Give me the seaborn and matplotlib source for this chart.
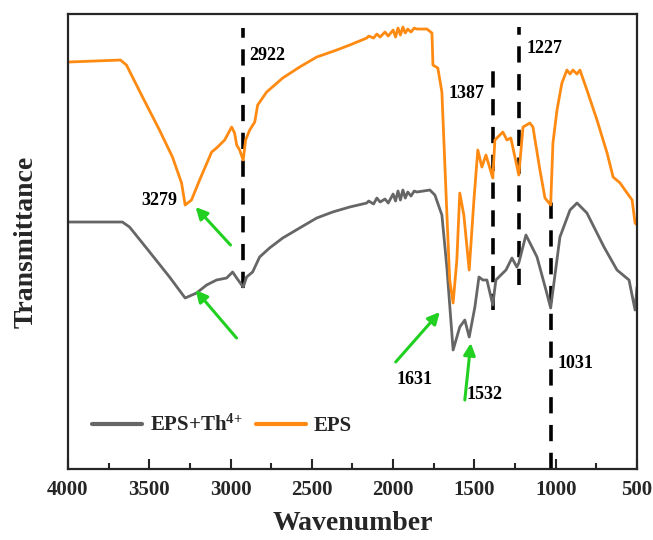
import matplotlib
matplotlib.use("Agg")
import matplotlib.pyplot as plt
import seaborn as sns
import pandas as pd
from matplotlib.ticker import MultipleLocator

# ---- data (wavenumber cm-1, transmittance a.u.) ----
eps_wn = [4000, 3837, 3677, 3640, 3541, 3437, 3357, 3301, 3279, 3240, 3190, 3116, 3086, 3036,
          2993, 2975, 2962, 2944, 2922, 2907, 2882, 2851, 2833, 2778, 2679, 2575, 2470, 2347,
          2267, 2162, 2150, 2120, 2100, 2080, 2050, 2030, 2000, 1985, 1970, 1955, 1940, 1925,
          1910, 1890, 1870, 1854, 1792, 1761, 1755, 1725, 1700, 1669, 1652, 1631, 1608, 1590,
          1565, 1532, 1503, 1479, 1454, 1429, 1387, 1374, 1325, 1300, 1276, 1227, 1201, 1159,
          1140, 1097, 1066, 1031, 1017, 992, 962, 931, 912, 894, 869, 851, 808, 746, 684, 647,
          604, 561, 530, 512, 500]
eps_t = [407, 408, 409, 404, 372, 339, 312, 286, 264, 269, 289, 317, 321, 329,
         342, 336, 324, 319, 309, 329, 339, 347, 364, 377, 391, 402, 412, 419,
         424, 431, 433, 431, 435, 432, 437, 433, 439, 432, 441, 434, 442, 436,
         440, 437, 441, 440, 440, 436, 404, 401, 377, 254, 189, 166, 209, 276,
         254, 199, 269, 319, 302, 314, 291, 329, 337, 329, 331, 294, 342, 346,
         342, 299, 271, 264, 326, 359, 386, 399, 395, 399, 395, 399, 379, 349, 316, 292,
         286, 276, 269, 246, 244]

th_wn = [4000, 3837, 3665, 3621, 3517, 3375, 3279, 3209, 3147, 3086, 3024, 2987, 2962, 2922,
         2901, 2864, 2821, 2760, 2679, 2575, 2470, 2372, 2267, 2162, 2150, 2120, 2100, 2080,
         2050, 2030, 2000, 1985, 1970, 1955, 1940, 1925, 1910, 1890, 1870, 1854, 1774, 1743,
         1700, 1669, 1631, 1590, 1559, 1532, 1497, 1472, 1448, 1423, 1387, 1368, 1306, 1269,
         1239, 1227, 1183, 1115, 1060, 1031, 974, 912, 869, 808, 703, 623, 549, 512, 500]
th_t = [247, 247, 247, 242, 221, 192, 171, 176, 184, 189, 191, 197, 191, 182,
        192, 197, 212, 221, 231, 241, 251, 257, 262, 266, 268, 265, 271, 267,
        270, 266, 275, 268, 278, 269, 279, 271, 277, 273, 278, 277, 279, 274,
        254, 201, 119, 142, 149, 132, 162, 192, 189, 189, 164, 189, 199, 211,
        202, 206, 234, 212, 179, 161, 232, 259, 266, 256, 222, 199, 189, 159, 182]

series_names = ["EPS+Th$^{4{+}}$", "EPS"]
peak_lines = [2922, 1387, 1227, 1031]
peak_spans = [(181, 441), (159, 399), (184, 442), (0, 274)]

# ---- build frame ----
df = pd.concat([
    pd.DataFrame({"wn": th_wn, "t": th_t, "sample": series_names[0]}),
    pd.DataFrame({"wn": eps_wn, "t": eps_t, "sample": series_names[1]}),
])

sns.set_style("ticks")
plt.rcParams["font.family"] = ["Liberation Serif", "DejaVu Serif"]
plt.rcParams["mathtext.fontset"] = "custom"
plt.rcParams["mathtext.rm"] = "Liberation Serif:bold"
plt.rcParams["mathtext.it"] = "Liberation Serif:bold"
plt.rcParams["mathtext.bf"] = "Liberation Serif:bold"

fig = plt.figure(figsize=(6.53, 5.40), dpi=100)
ax = fig.add_axes([0.104, 0.1315, 0.8715, 0.8425])

palette = {series_names[0]: "#666666", series_names[1]: "#FF8A12"}
sns.lineplot(data=df, x="wn", y="t", hue="sample", palette=palette, ax=ax,
             linewidth=2.0, estimator=None, sort=False, hue_order=series_names)

ax.set_xlim(4000, 500)
ax.set_ylim(0, 455)

# dashed reference lines
for xv, (y0, y1) in zip(peak_lines, peak_spans):
    ax.plot([xv, xv], [y0, y1], color="black", lw=2.6, ls=(0, (4.5, 3.2)), zorder=1)

# labels
tkw = dict(fontsize=13, fontweight="bold", color="black")
ax.text(3325, 269, "3279", ha="right", va="center", **tkw)
ax.text(2882, 414, "2922", ha="left", va="center", **tkw)
ax.text(1440, 376, "1387", ha="right", va="center", **tkw)
ax.text(1177, 421, "1227", ha="left", va="center", **tkw)
ax.text(1866, 89, "1631", ha="center", va="center", **tkw)
ax.text(1547, 74, "1532", ha="left", va="center", **tkw)
ax.text(990, 106, "1031", ha="left", va="center", **tkw)

# green arrows
arrows = [((3000, 224), (3215, 262)), ((2963, 131), (3215, 179)),
          ((1984, 107), (1713, 157)), ((1559, 69), (1522, 126))]
for tail, head in arrows:
    ax.annotate("", xy=head, xytext=tail,
                arrowprops=dict(arrowstyle="-|>,head_length=0.7,head_width=0.35",
                                color="#22D022", lw=2.2, shrinkA=0, shrinkB=0))

ax.xaxis.set_major_locator(MultipleLocator(500))
ax.xaxis.set_minor_locator(MultipleLocator(250))
ax.tick_params(axis="x", which="major", direction="in", length=7, width=1.5,
               labelsize=15, pad=8)
ax.tick_params(axis="x", which="minor", direction="in", length=4, width=1.5)
ax.set_yticks([])
for lab in ax.get_xticklabels():
    lab.set_fontweight("bold")
for sp in ax.spines.values():
    sp.set_linewidth(1.6)
    sp.set_visible(True)

ax.set_xlabel("Wavenumber", fontsize=20, fontweight="bold", labelpad=8)
ax.set_ylabel("Transmittance", fontsize=20, fontweight="bold", labelpad=21)

leg = ax.legend(loc="lower left", bbox_to_anchor=(0.0095, 0.031), ncol=2, frameon=False,
                handlelength=2.4, columnspacing=0.6, handletextpad=0.4,
                prop={"family": "Liberation Serif", "weight": "bold", "size": 15})
for line in leg.get_lines():
    line.set_linewidth(3)

fig.savefig("out.png", dpi=100)
